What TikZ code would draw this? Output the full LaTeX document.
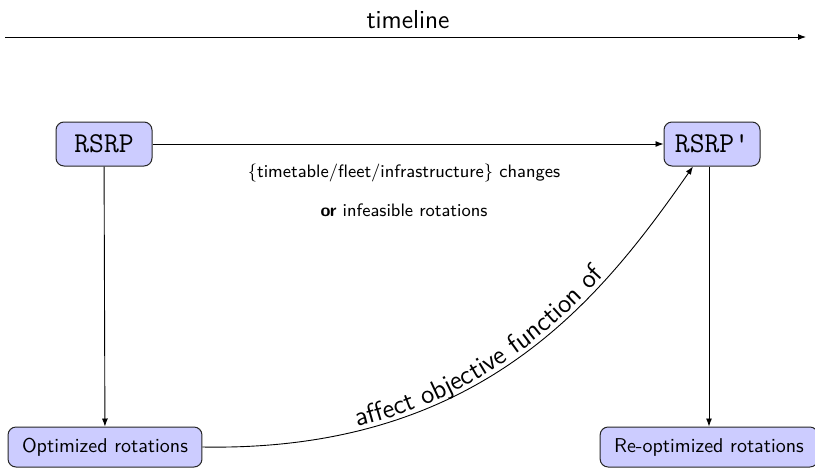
\documentclass[tikz,border=0pt]{standalone}
\usetikzlibrary{arrows.meta,decorations.text}
\begin{document}
\begin{tikzpicture}[x=0.5pt,y=-0.5pt,
  box/.style={draw=black!85, fill=blue!20, rounded corners=4pt, line width=0.5pt},
  bigbox/.style={box, minimum width=48pt, minimum height=22pt, font=\Large\ttfamily},
  smallbox/.style={box, minimum height=20pt, inner xsep=7pt, font=\sffamily},
  conn/.style={-{Latex[length=4pt,width=3pt]}, line width=0.45pt},
  lbl/.style={font=\sffamily\small}]
\useasboundingbox (0,0) rectangle (815,467);

% timeline
\node[font=\sffamily\fontsize{13}{15}\selectfont] (tl) at (408,20) {timeline};
\coordinate (t0) at (5,37);
\coordinate (t1) at (806,37);
\draw[conn] (t0) -- (t1);

% problem instances
\node[bigbox] (rsrp) at (104,144) {RSRP};
\node[bigbox] (rsrpp) at (712,144) {RSRP'};

% results
\node[smallbox] (opt) at (105,447) {Optimized rotations};
\node[smallbox] (reopt) at (709,447) {Re-optimized rotations};

% connectors
\draw[conn] (rsrp) -- (rsrpp);
\draw[conn] (rsrp) -- (opt);
\draw[conn] (rsrpp.south -| reopt.north) -- (reopt);

\node[lbl] (c1) at (404,173) {\{timetable/fleet/infrastructure\} changes};
\node[lbl] (c2) at (404,210) {\textbf{or} infeasible rotations};

\coordinate (hit) at ([xshift=-9.5pt]rsrpp.south);
\draw[conn, postaction={decorate, decoration={text along path,
    text={|\fontsize{13.5}{16}\selectfont\sffamily|affect objective function of},
    text align={align=center, left indent=8pt}, raise=2pt}}]
  (opt.east) .. controls (480,452) and (600,300) .. (hit);
\end{tikzpicture}
\end{document}
